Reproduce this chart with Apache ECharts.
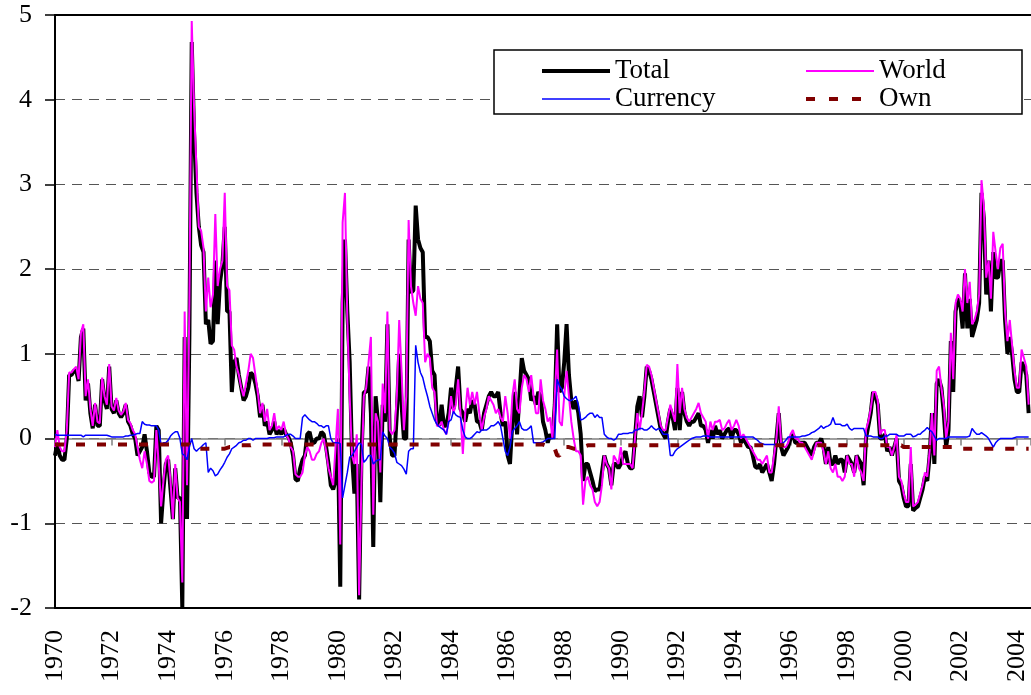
<!DOCTYPE html>
<html>
<head>
<meta charset="utf-8">
<script src="https://cdn.jsdelivr.net/npm/echarts@6/dist/echarts.min.js"></script>
<style>
  html, body { margin: 0; padding: 0; background: #fff; }
  #chart { width: 1031px; height: 695px; }
</style>
</head>
<body>
<div id="chart"></div>
<script>
// monthly observations, first one is January 1970
var startYear = 1970;
var yearTicks = [-2, -1, 0, 1, 2, 3, 4, 5];

var total = [
  -0.2, -0.05, -0.2, -0.25, -0.25, 0.0, 0.75, 0.75, 0.8, 0.8, 0.68, 1.2,        // 1970
  1.3, 0.45, 0.65, 0.3, 0.12, 0.4, 0.15, 0.15, 0.7, 0.45, 0.35, 0.85,           // 1971
  0.35, 0.3, 0.45, 0.3, 0.25, 0.3, 0.4, 0.2, 0.15, 0.05, 0.0, -0.2,             // 1972
  -0.15, -0.1, 0.05, -0.15, -0.4, -0.45, -0.45, 0.15, 0.1, -1.0, -0.6, -0.3,    // 1973
  -0.25, -0.6, -0.95, -0.35, -0.7, -0.7, -2.0, 1.2, -0.95, 1.2, 4.68, 3.6,      // 1974
  2.9, 2.5, 2.28, 2.2, 1.35, 1.4, 1.12, 1.15, 2.1, 1.35, 1.85, 2.05,            // 1975
  2.5, 1.5, 1.5, 0.55, 0.9, 0.95, 0.75, 0.6, 0.45, 0.5, 0.6, 0.78,              // 1976
  0.75, 0.65, 0.5, 0.25, 0.4, 0.15, 0.2, 0.05, 0.1, 0.2, 0.05, 0.1,             // 1977
  0.05, 0.12, 0.05, 0.02, -0.05, -0.2, -0.48, -0.5, -0.35, -0.25, -0.2, 0.05,   // 1978
  0.08, -0.05, -0.05, 0.0, 0.0, 0.08, 0.05, -0.1, -0.3, -0.55, -0.6, -0.5,      // 1979
  0.0, -1.75, 1.6, 2.35, 1.5, 0.9, -0.2, -0.65, -0.3, -1.9, -0.2, 0.55,         // 1980
  0.55, 0.85, 0.3, -1.28, 0.5, 0.2, -0.75, 0.4, 0.2, 1.35, 0.0, -0.2,           // 1981
  -0.2, 0.3, 1.0, 0.4, 0.0, 0.0, 2.35, 1.72, 1.75, 2.75, 2.35, 2.25,            // 1982
  2.2, 1.2, 1.2, 1.15, 0.8, 0.75, 0.2, 0.15, 0.4, 0.15, 0.15, 0.3,              // 1983
  0.6, 0.35, 0.6, 0.85, 0.35, 0.3, 0.2, 0.35, 0.3, 0.45, 0.4, 0.2,              // 1984
  0.2, 0.1, 0.3, 0.4, 0.5, 0.55, 0.5, 0.5, 0.55, 0.3, 0.15, 0.2,                // 1985
  -0.2, -0.3, 0.2, 0.55, 0.05, 0.5, 0.95, 0.8, 0.75, 0.7, 0.45, 0.5,            // 1986
  0.4, 0.55, 0.5, 0.2, 0.1, -0.05, 0.05, 0.0, 0.4, 1.35, 0.55, 0.6,             // 1987
  0.9, 1.35, 0.75, 0.45, 0.35, 0.45, 0.3, 0.05, -0.5, -0.3, -0.3, -0.4,         // 1988
  -0.5, -0.62, -0.6, -0.6, -0.4, -0.2, -0.3, -0.35, -0.55, -0.3, -0.3, -0.35,   // 1989
  -0.3, -0.2, -0.15, -0.3, -0.35, -0.35, 0.0, 0.38, 0.5, 0.25, 0.5, 0.85,       // 1990
  0.8, 0.7, 0.55, 0.4, 0.25, 0.1, 0.05, 0.0, 0.2, 0.35, 0.25, 0.1,              // 1991
  0.6, 0.1, 0.55, 0.3, 0.2, 0.15, 0.2, 0.2, 0.25, 0.3, 0.15, 0.15,              // 1992
  0.1, -0.05, 0.1, 0.0, 0.15, 0.05, 0.1, 0.0, 0.05, 0.1, 0.12, 0.0,             // 1993
  0.1, 0.1, 0.05, -0.05, 0.0, -0.05, -0.1, -0.1, -0.2, -0.33, -0.35, -0.3,      // 1994
  -0.4, -0.35, -0.3, -0.4, -0.5, -0.3, 0.0, 0.3, -0.1, -0.2, -0.15, -0.1,       // 1995
  0.0, 0.05, -0.05, -0.05, -0.05, -0.05, -0.05, -0.1, -0.15, -0.2, -0.1, -0.05, // 1996
  -0.05, 0.0, -0.1, -0.3, -0.1, -0.3, -0.3, -0.2, -0.3, -0.25, -0.25, -0.4,     // 1997
  -0.2, -0.25, -0.3, -0.4, -0.2, -0.25, -0.3, -0.55, 0.0, 0.15, 0.3, 0.55,      // 1998
  0.5, 0.4, 0.0, 0.0, 0.05, -0.15, -0.1, -0.2, -0.1, 0.0, -0.5, -0.55,          // 1999
  -0.7, -0.8, -0.8, -0.3, -0.85, -0.82, -0.8, -0.7, -0.6, -0.45, -0.5, -0.2,    // 2000
  0.3, -0.3, 0.65, 0.7, 0.6, 0.3, -0.1, 0.1, 1.15, 0.55, 1.5, 1.65,             // 2001
  1.6, 1.3, 1.95, 1.3, 1.65, 1.2, 1.3, 1.4, 1.6, 2.9, 2.6, 1.7,                 // 2002
  2.1, 1.5, 2.2, 1.9, 1.9, 2.1, 2.1, 1.4, 1.0, 1.2, 1.0, 0.7,                   // 2003
  0.55, 0.55, 0.9, 0.85, 0.75, 0.3                                              // 2004
];

var world = [
  -0.1, 0.1, -0.1, -0.15, -0.15, 0.1, 0.78, 0.78, 0.82, 0.85, 0.7, 1.25,
  1.35, 0.5, 0.7, 0.35, 0.15, 0.42, 0.2, 0.18, 0.72, 0.5, 0.4, 0.88,
  0.38, 0.33, 0.48, 0.33, 0.28, 0.32, 0.42, 0.22, 0.18, 0.1, 0.05, -0.1,
  -0.25, -0.35, -0.15, -0.3, -0.5, -0.52, -0.5, 0.1, -0.3, -0.8, -0.5, -0.25,
  -0.2, -0.5, -0.95, -0.3, -0.7, -0.75, -1.7, 1.5, -0.55, 1.6, 4.93, 3.9,
  3.2, 2.5, 2.45, 2.25, 1.5, 1.9, 1.55, 1.7, 2.65, 1.8, 2.0, 2.1,
  2.9, 1.8, 1.75, 1.1, 1.05, 0.85, 0.75, 0.6, 0.5, 0.65, 0.8, 1.0,
  0.95, 0.75, 0.55, 0.3, 0.42, 0.2, 0.35, 0.1, 0.15, 0.3, 0.1, 0.15,
  0.1, 0.2, 0.05, 0.0, -0.1, -0.15, -0.42, -0.45, -0.45, -0.4, -0.2, -0.1,
  -0.15, -0.25, -0.25, -0.18, -0.15, -0.05, 0.0, -0.15, -0.35, -0.45, -0.55, -0.1,
  0.35, -1.25, 2.55, 2.9, 1.4, 0.5, -0.2, -0.3, 0.05, -1.85, -0.5, 0.5,
  0.6, 0.9, 1.2, -0.9, 0.3, 0.2, -0.4, 0.65, 0.3, 1.5, 0.1, 0.05,
  0.1, 0.5, 1.4, 0.8, 0.1, 0.5, 2.58, 1.8, 1.6, 1.45, 1.8, 1.65,
  1.6, 0.9, 1.0, 0.95, 0.6, 0.55, 0.15, 0.15, 0.2, 0.1, 0.05, 0.2,
  0.5, 0.3, 0.4, 0.7, 0.3, -0.18, 0.3, 0.6, 0.4, 0.55, 0.4, 0.55,
  0.3, 0.1, 0.25, 0.35, 0.5, 0.45, 0.4, 0.3, 0.35, 0.25, 0.2, 0.5,
  0.3, 0.0, 0.5, 0.7, 0.35, 0.3, 0.6, 0.75, 0.7, 0.55, 0.75, 0.5,
  0.3, 0.3, 0.7, 0.45, 0.35, 0.2, 0.25, 0.0, 0.5, 1.05, 0.2, 0.15,
  0.5, 0.8, 0.5, 0.2, 0.0, -0.15, -0.15, -0.2, -0.78, -0.5, -0.45, -0.55,
  -0.6, -0.75, -0.8, -0.75, -0.55, -0.2, -0.3, -0.35, -0.6, -0.2, -0.25, -0.3,
  -0.1, -0.3, -0.3, -0.3, -0.3, -0.35, 0.0, 0.3, 0.1, 0.3, 0.55, 0.87,
  0.85, 0.75, 0.6, 0.45, 0.3, 0.15, 0.1, 0.1, 0.25, 0.4, 0.3, 0.2,
  0.88, 0.3, 0.6, 0.35, 0.25, 0.2, 0.25, 0.3, 0.35, 0.42, 0.3, 0.25,
  0.2, 0.0, 0.2, 0.1, 0.2, 0.2, 0.22, 0.1, 0.12, 0.18, 0.22, 0.1,
  0.15, 0.22, 0.15, 0.0, 0.05, 0.0, -0.05, -0.1, -0.15, -0.2, -0.25, -0.25,
  -0.3, -0.25, -0.2, -0.4, -0.4, -0.2, 0.0, 0.38, -0.05, -0.1, -0.1, -0.05,
  0.05, 0.1, 0.0, 0.0, -0.05, -0.05, -0.1, -0.15, -0.2, -0.25, -0.15, -0.05,
  -0.05, -0.05, -0.15, -0.3, -0.15, -0.35, -0.4, -0.3, -0.45, -0.45, -0.5, -0.45,
  -0.2, -0.3, -0.3, -0.45, -0.2, -0.35, -0.4, -0.5, 0.1, 0.2, 0.35, 0.55,
  0.55, 0.45, 0.05, 0.1, 0.1, -0.1, -0.1, -0.2, -0.1, 0.05, -0.45, -0.5,
  -0.65, -0.75, -0.75, -0.1, -0.8, -0.78, -0.75, -0.65, -0.55, -0.4, -0.45, -0.15,
  0.3, -0.2, 0.8, 0.85, 0.6, 0.4, 0.0, 0.2, 1.25, 0.7, 1.6, 1.7,
  1.65, 1.5, 2.0, 1.6, 1.85, 1.35, 1.4, 1.5, 1.7, 3.05, 2.75, 1.9,
  2.1, 1.65, 2.44, 2.2, 2.0, 2.25, 2.3, 1.5, 1.15, 1.4, 1.1, 0.8,
  0.6, 0.6, 1.05, 0.95, 0.85, 0.4
];

var currency = [
  0.05, 0.04, 0.04, 0.04, 0.04, 0.04, 0.04, 0.04, 0.04, 0.04, 0.04, 0.04,
  0.02, 0.04, 0.04, 0.04, 0.04, 0.04, 0.04, 0.04, 0.04, 0.04, 0.04, 0.03,
  0.02, 0.02, 0.02, 0.02, 0.02, 0.02, 0.03, 0.03, 0.04, 0.04, 0.05, 0.06,
  0.06, 0.2, 0.17, 0.16, 0.16, 0.15, 0.15, 0.15, 0.1, -0.07, -0.05, -0.05,
  -0.02, 0.03, 0.06, 0.08, 0.08, 0.0, -0.18, -0.2, -0.25, -0.1, 0.0, -0.12,
  -0.15, -0.12, -0.1, -0.07, -0.05, -0.4, -0.35, -0.38, -0.44, -0.42, -0.37, -0.33,
  -0.28, -0.22, -0.18, -0.12, -0.1, -0.08, -0.05, -0.04, -0.02, -0.02, 0.0, 0.0,
  -0.02, 0.0, 0.0, 0.0, 0.0, 0.0, 0.0, 0.01, 0.01, 0.01, 0.02, 0.02,
  0.02, 0.02, 0.04, 0.05, 0.05, 0.03, 0.0, 0.0, 0.0, 0.25, 0.28, 0.25,
  0.22, 0.2, 0.2, 0.18, 0.15, 0.15, 0.13, 0.15, 0.15, 0.0, -0.05, -0.05,
  -0.05, -0.06, -0.7, -0.55, -0.4, -0.22, -0.2, -0.15, -0.1, -0.05, -0.07, -0.28,
  -0.25, -0.2, -0.2, -0.3, -0.27, -0.25, -0.25, 0.08, 0.03, 0.0, -0.1, -0.13,
  -0.17, -0.28, -0.3, -0.32, -0.36, -0.42, -0.15, -0.12, -0.12, 1.1, 0.9, 0.78,
  0.72, 0.6, 0.5, 0.38, 0.3, 0.22, 0.17, 0.14, 0.12, 0.1, 0.05, 0.2,
  0.22, 0.32, 0.28, 0.26, 0.25, 0.1, 0.02, 0.0, 0.0, 0.02, 0.05, 0.08,
  0.07, 0.1, 0.1, 0.1, 0.12, 0.15, 0.15, 0.17, 0.2, 0.15, 0.0, -0.15,
  -0.2, -0.1, 0.08, 0.12, 0.15, 0.2, 0.12, 0.1, 0.1, 0.12, 0.15, -0.05,
  -0.05, -0.05, -0.05, -0.04, -0.02, 0.0, 0.0, 0.0, 0.0, 0.7, 0.62, 0.58,
  0.5, 0.47, 0.45, 0.45, 0.47, 0.5, 0.4, 0.22, 0.23, 0.25, 0.28, 0.3,
  0.3, 0.25, 0.28, 0.25, 0.25, 0.05, 0.02, 0.0, 0.0, -0.02, 0.0, 0.05,
  0.05, 0.06, 0.06, 0.06, 0.07, 0.07, 0.1, 0.1, 0.12, 0.12, 0.1, 0.1,
  0.12, 0.15, 0.12, 0.1, 0.12, 0.1, 0.05, 0.05, 0.05, -0.2, -0.2, -0.15,
  -0.12, -0.1, -0.08, -0.06, -0.04, -0.02, 0.0, 0.01, 0.02, 0.02, 0.02, 0.03,
  0.03, 0.03, 0.02, 0.02, 0.02, 0.02, 0.02, 0.02, 0.02, 0.02, 0.02, 0.02,
  0.02, 0.02, 0.02, 0.02, 0.02, 0.02, 0.02, 0.02, 0.02, 0.0, -0.02, -0.05,
  -0.06, -0.07, -0.07, -0.07, -0.07, -0.07, -0.07, -0.07, -0.06, -0.05, -0.02, 0.02,
  0.02, 0.02, 0.02, 0.02, 0.02, 0.03, 0.03, 0.04, 0.05, 0.07, 0.08, 0.1,
  0.12, 0.15, 0.12, 0.14, 0.15, 0.17, 0.25, 0.17, 0.17, 0.17, 0.15, 0.15,
  0.17, 0.12, 0.1, 0.12, 0.12, 0.12, 0.12, 0.12, 0.03, 0.03, 0.03, 0.02,
  0.02, 0.02, 0.0, 0.0, 0.03, 0.03, 0.05, 0.05, 0.05, 0.05, 0.03, 0.03,
  0.03, 0.05, 0.05, 0.05, 0.02, 0.03, 0.05, 0.05, 0.08, 0.1, 0.13, 0.1,
  0.08, 0.03, -0.02, 0.0, 0.0, 0.0, 0.0, 0.02, 0.02, 0.02, 0.02, 0.02,
  0.02, 0.02, 0.02, 0.02, 0.03, 0.12, 0.08, 0.05, 0.05, 0.07, 0.05, 0.03,
  0.0, -0.05, -0.1, -0.05, -0.02, 0.0, 0.0, 0.0, 0.0, 0.0, 0.0, 0.01,
  0.02, 0.02, 0.02, 0.02, 0.02, 0.02
];

var own = [
  -0.07, -0.07, -0.07, -0.07, -0.07, -0.07, -0.07, -0.07, -0.07, -0.07, -0.07, -0.07,
  -0.07, -0.07, -0.07, -0.07, -0.07, -0.07, -0.07, -0.07, -0.07, -0.07, -0.07, -0.07,
  -0.07, -0.07, -0.07, -0.07, -0.07, -0.07, -0.07, -0.07, -0.07, -0.07, -0.07, -0.07,
  -0.07, -0.07, -0.07, -0.07, -0.07, -0.07, -0.07, -0.07, -0.07, -0.07, -0.07, -0.07,
  -0.07, -0.07, -0.07, -0.07, -0.07, -0.07, -0.07, -0.07, -0.07, -0.07, -0.1, -0.12,
  -0.12, -0.12, -0.12, -0.12, -0.12, -0.12, -0.12, -0.12, -0.12, -0.12, -0.12, -0.12,
  -0.12, -0.11, -0.1, -0.1, -0.09, -0.09, -0.08, -0.08, -0.08, -0.08, -0.08, -0.08,
  -0.07, -0.07, -0.07, -0.07, -0.07, -0.07, -0.07, -0.07, -0.07, -0.07, -0.07, -0.07,
  -0.07, -0.07, -0.07, -0.07, -0.07, -0.07, -0.07, -0.07, -0.07, -0.07, -0.07, -0.07,
  -0.07, -0.07, -0.07, -0.07, -0.07, -0.07, -0.07, -0.07, -0.07, -0.07, -0.07, -0.07,
  -0.07, -0.07, -0.07, -0.07, -0.07, -0.07, -0.07, -0.07, -0.07, -0.07, -0.07, -0.07,
  -0.07, -0.07, -0.07, -0.07, -0.07, -0.07, -0.07, -0.07, -0.07, -0.07, -0.07, -0.07,
  -0.07, -0.07, -0.07, -0.07, -0.07, -0.07, -0.07, -0.07, -0.07, -0.07, -0.07, -0.07,
  -0.07, -0.07, -0.07, -0.07, -0.07, -0.07, -0.07, -0.07, -0.07, -0.07, -0.07, -0.07,
  -0.07, -0.07, -0.07, -0.07, -0.07, -0.07, -0.07, -0.07, -0.07, -0.07, -0.07, -0.07,
  -0.07, -0.07, -0.07, -0.07, -0.07, -0.07, -0.07, -0.07, -0.07, -0.07, -0.07, -0.07,
  -0.07, -0.07, -0.07, -0.07, -0.07, -0.07, -0.07, -0.07, -0.07, -0.07, -0.07, -0.07,
  -0.07, -0.07, -0.07, -0.07, -0.08, -0.08, -0.09, -0.1, -0.12, -0.2, -0.2, -0.12,
  -0.1, -0.1, -0.1, -0.11, -0.12, -0.12, -0.12, -0.12, -0.1, -0.09, -0.08, -0.08,
  -0.08, -0.08, -0.08, -0.08, -0.08, -0.08, -0.08, -0.08, -0.08, -0.08, -0.08, -0.08,
  -0.08, -0.08, -0.08, -0.08, -0.08, -0.08, -0.08, -0.08, -0.08, -0.08, -0.08, -0.08,
  -0.08, -0.08, -0.08, -0.08, -0.08, -0.08, -0.08, -0.08, -0.08, -0.08, -0.08, -0.08,
  -0.08, -0.08, -0.08, -0.08, -0.08, -0.08, -0.08, -0.08, -0.08, -0.08, -0.08, -0.08,
  -0.08, -0.08, -0.08, -0.08, -0.08, -0.08, -0.08, -0.08, -0.08, -0.08, -0.08, -0.08,
  -0.08, -0.08, -0.08, -0.08, -0.08, -0.08, -0.08, -0.08, -0.08, -0.08, -0.08, -0.08,
  -0.08, -0.08, -0.08, -0.08, -0.08, -0.08, -0.08, -0.08, -0.08, -0.08, -0.08, -0.08,
  -0.08, -0.08, -0.08, -0.08, -0.08, -0.08, -0.08, -0.08, -0.08, -0.08, -0.08, -0.08,
  -0.08, -0.08, -0.08, -0.08, -0.08, -0.08, -0.08, -0.08, -0.08, -0.08, -0.08, -0.08,
  -0.08, -0.08, -0.08, -0.08, -0.08, -0.08, -0.08, -0.08, -0.08, -0.08, -0.08, -0.08,
  -0.08, -0.08, -0.08, -0.08, -0.08, -0.08, -0.08, -0.08, -0.08, -0.08, -0.08, -0.08,
  -0.1, -0.1, -0.1, -0.1, -0.1, -0.1, -0.1, -0.1, -0.1, -0.1, -0.1, -0.1,
  -0.1, -0.1, -0.1, -0.1, -0.1, -0.1, -0.1, -0.1, -0.1, -0.1, -0.1, -0.1,
  -0.12, -0.12, -0.12, -0.12, -0.12, -0.12, -0.12, -0.12, -0.12, -0.12, -0.12, -0.12,
  -0.12, -0.12, -0.12, -0.12, -0.12, -0.12, -0.12, -0.12, -0.12, -0.12, -0.12, -0.12,
  -0.12, -0.12, -0.12, -0.12, -0.12, -0.12
];

function monthly(values) {
  return values.map(function (v, i) { return [startYear + i / 12, v]; });
}

var serif = 'Liberation Serif';

var legendBase = {
  orient: 'vertical', top: 57, z: 10,
  itemWidth: 68, itemHeight: 12, itemGap: 0, padding: 0, selectedMode: false,
  itemStyle: { opacity: 0 },
  textStyle: { fontSize: 27, fontFamily: serif, color: '#000', lineHeight: 28 }
};

var myChart = echarts.init(document.getElementById('chart'));
myChart.setOption({
  animation: false,
  backgroundColor: '#fff',
  grid: { left: 55, right: 0, top: 15, bottom: 87 },
  xAxis: [
    {
      type: 'value', min: 1970, max: 2004.5, interval: 2, position: 'bottom',
      axisLine: { onZero: false, lineStyle: { color: '#000', width: 2 } },
      axisTick: { show: false },
      axisLabel: {
        rotate: 90, margin: 22, fontSize: 26, fontFamily: serif, color: '#000',
        showMaxLabel: false,
        formatter: function (v) { return String(v); }
      },
      splitLine: { show: false }
    },
    {
      type: 'value', min: 1970, max: 2004.5, interval: 2, position: 'bottom',
      axisLine: { onZero: true, lineStyle: { color: '#808080', width: 1.5 } },
      axisTick: { show: true, length: 7, lineStyle: { color: '#808080', width: 1.5 } },
      axisLabel: { show: false },
      splitLine: { show: false }
    },
    {
      // top frame line of the plot area
      type: 'value', min: 1970, max: 2004.5, position: 'top',
      axisLine: { onZero: false, lineStyle: { color: '#000', width: 2 } },
      axisTick: { show: false }, axisLabel: { show: false }, splitLine: { show: false }
    }
  ],
  yAxis: {
    type: 'value', min: yearTicks[0], max: yearTicks[yearTicks.length - 1], interval: 1,
    axisLine: { show: true, onZero: false, lineStyle: { color: '#000', width: 2 } },
    axisTick: { show: true, length: 10, lineStyle: { color: '#000', width: 1.5 } },
    axisLabel: { margin: 23, fontSize: 26, fontFamily: serif, color: '#000' },
    splitLine: { show: true, lineStyle: { type: [10, 7], color: '#555', width: 1 } }
  },
  graphic: [{
    type: 'rect', z: 5,
    shape: { x: 494, y: 50, width: 528, height: 64 },
    style: { fill: '#fff', stroke: '#000', lineWidth: 1.5 }
  }],
  legend: [
    Object.assign({
      data: [
        { name: 'Total', lineStyle: { width: 4 } },
        { name: 'Currency', lineStyle: { width: 1.5 } }
      ],
      left: 540
    }, legendBase),
    Object.assign({
      data: [
        { name: 'World', lineStyle: { width: 2 } },
        { name: 'Own', lineStyle: { width: 4, type: [9, 14] } }
      ],
      left: 804
    }, legendBase)
  ],
  series: [
    {
      name: 'Total', type: 'line', symbol: 'none', data: monthly(total), z: 2,
      lineStyle: { color: '#000', width: 4 }, itemStyle: { color: '#000' }
    },
    {
      name: 'World', type: 'line', symbol: 'none', data: monthly(world), z: 3,
      lineStyle: { color: '#ff00ff', width: 2 }, itemStyle: { color: '#ff00ff' }
    },
    {
      name: 'Currency', type: 'line', symbol: 'none', data: monthly(currency), z: 4,
      lineStyle: { color: '#0000ff', width: 1.5 }, itemStyle: { color: '#0000ff' }
    },
    {
      name: 'Own', type: 'line', symbol: 'none', data: monthly(own), z: 4,
      lineStyle: { color: '#800000', width: 4, type: [9, 12] }, itemStyle: { color: '#800000' }
    }
  ]
});
</script>
</body>
</html>
